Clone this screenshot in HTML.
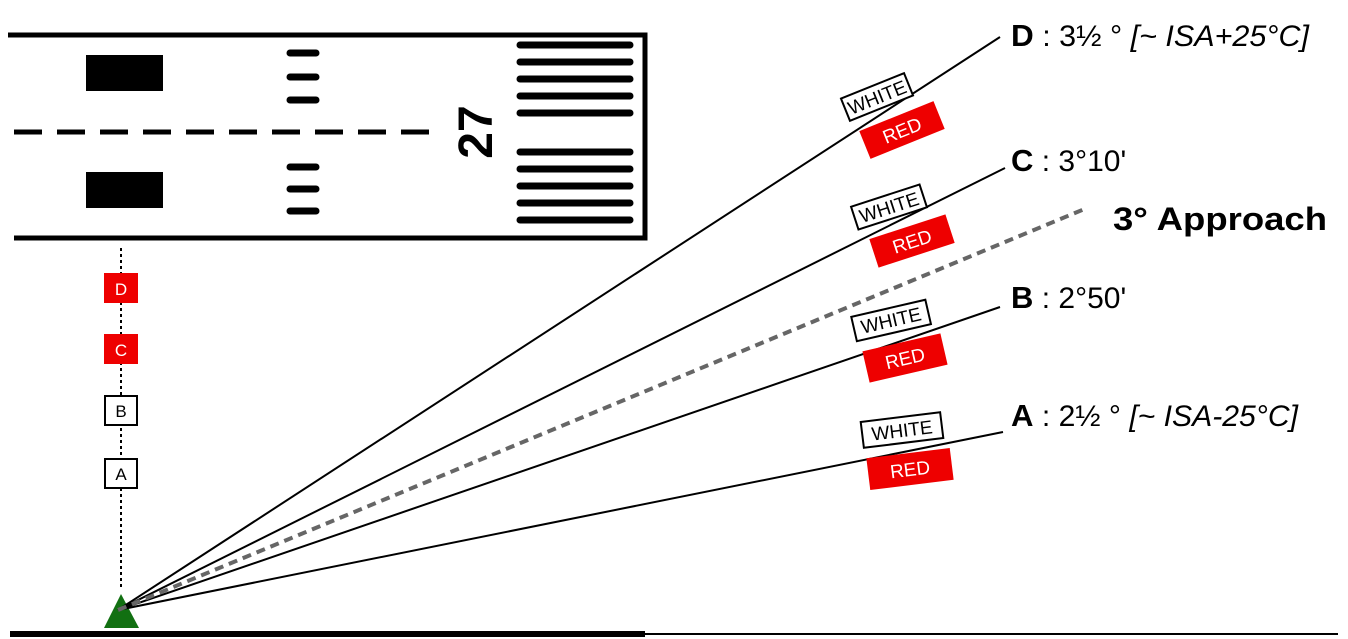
<!DOCTYPE html>
<html><head><style>html,body{margin:0;padding:0;background:#fff}svg{display:block}</style></head>
<body>
<svg width="1348" height="639" viewBox="0 0 1348 639" xmlns="http://www.w3.org/2000/svg" font-family="Liberation Sans, sans-serif">
<rect width="1348" height="639" fill="#fff"/>
<!-- runway -->
<polyline points="8,35 645,35 645,238 14,238" fill="none" stroke="#000" stroke-width="5"/>
<rect x="86" y="55" width="77" height="36" fill="#000"/>
<rect x="86" y="172" width="77" height="36" fill="#000"/>
<g stroke="#000" stroke-width="7" stroke-linecap="round">
<line x1="290" y1="53" x2="316" y2="53"/><line x1="290" y1="77" x2="316" y2="77"/><line x1="290" y1="100" x2="316" y2="100"/>
<line x1="290" y1="167" x2="316" y2="167"/><line x1="290" y1="189" x2="316" y2="189"/><line x1="290" y1="211" x2="316" y2="211"/>
<line x1="520" y1="45" x2="630" y2="45"/><line x1="520" y1="62" x2="630" y2="62"/><line x1="520" y1="79" x2="630" y2="79"/><line x1="520" y1="96" x2="630" y2="96"/><line x1="520" y1="113" x2="630" y2="113"/>
<line x1="520" y1="152" x2="630" y2="152"/><line x1="520" y1="169" x2="630" y2="169"/><line x1="520" y1="186" x2="630" y2="186"/><line x1="520" y1="203" x2="630" y2="203"/><line x1="520" y1="220" x2="630" y2="220"/>
</g>
<line x1="14" y1="132" x2="430" y2="132" stroke="#000" stroke-width="5" stroke-dasharray="28,15"/>
<text x="0" y="0" transform="translate(492,132) rotate(-90)" font-size="48" font-weight="bold" text-anchor="middle">27</text>
<!-- left markers -->
<line x1="121" y1="248" x2="121" y2="590" stroke="#000" stroke-width="2" stroke-dasharray="3,3"/>
<rect x="104" y="273" width="34" height="30" fill="#e00"/><text x="121" y="295" font-size="17" fill="#fff" text-anchor="middle">D</text>
<rect x="104" y="334" width="34" height="30" fill="#e00"/><text x="121" y="356" font-size="17" fill="#fff" text-anchor="middle">C</text>
<rect x="105" y="396" width="32" height="29" fill="#fff" stroke="#000" stroke-width="2"/><text x="121" y="417" font-size="17" text-anchor="middle">B</text>
<rect x="105" y="459" width="32" height="29" fill="#fff" stroke="#000" stroke-width="2"/><text x="121" y="480" font-size="17" text-anchor="middle">A</text>
<!-- ground -->
<line x1="10" y1="634" x2="645" y2="634" stroke="#000" stroke-width="6"/>
<line x1="645" y1="634" x2="1338" y2="634" stroke="#000" stroke-width="2"/>
<!-- triangle -->
<polygon points="121,594 104,628 139,628" fill="#127012"/>
<!-- lines -->
<g stroke="#000" stroke-width="2">
<line x1="118" y1="610" x2="1000" y2="37"/>
<line x1="118" y1="610" x2="1005" y2="168"/>
<line x1="118" y1="610" x2="1000" y2="307"/>
<line x1="118" y1="610" x2="1003" y2="432"/>
</g>
<line x1="118" y1="610" x2="1087" y2="208" stroke="#666" stroke-width="4" stroke-dasharray="9,6"/>
<!-- WHITE/RED labels -->
<g font-size="19">
<g transform="translate(877,97) rotate(-22)"><rect x="-34" y="-12" width="68" height="24" fill="#fff" stroke="#000" stroke-width="2"/><text x="0" y="7" text-anchor="middle">WHITE</text></g>
<g transform="translate(902,130) rotate(-22)"><rect x="-40" y="-15" width="80" height="30" fill="#e00"/><text x="0" y="7" text-anchor="middle" fill="#fff">RED</text></g>
<g transform="translate(889,207) rotate(-18)"><rect x="-36" y="-12" width="72" height="24" fill="#fff" stroke="#000" stroke-width="2"/><text x="0" y="7" text-anchor="middle">WHITE</text></g>
<g transform="translate(912,241) rotate(-18)"><rect x="-40" y="-15" width="80" height="30" fill="#e00"/><text x="0" y="7" text-anchor="middle" fill="#fff">RED</text></g>
<g transform="translate(891,320) rotate(-13)"><rect x="-38" y="-12" width="76" height="25" fill="#fff" stroke="#000" stroke-width="2"/><text x="0" y="7" text-anchor="middle">WHITE</text></g>
<g transform="translate(905,358) rotate(-13)"><rect x="-40" y="-16" width="80" height="32" fill="#e00"/><text x="0" y="7" text-anchor="middle" fill="#fff">RED</text></g>
<g transform="translate(902,430) rotate(-7)"><rect x="-40" y="-13" width="80" height="26" fill="#fff" stroke="#000" stroke-width="2"/><text x="0" y="7" text-anchor="middle">WHITE</text></g>
<g transform="translate(910,469) rotate(-7)"><rect x="-42" y="-16" width="84" height="32" fill="#e00"/><text x="0" y="7" text-anchor="middle" fill="#fff">RED</text></g>
</g>
<!-- right labels -->
<g font-size="30">
<text x="1011" y="46" textLength="298" lengthAdjust="spacingAndGlyphs"><tspan font-weight="bold" font-size="31">D</tspan> : 3½ ° <tspan font-style="italic">[~ ISA+25°C]</tspan></text>
<text x="1011" y="171"><tspan font-weight="bold" font-size="31">C</tspan> : 3°10'</text>
<text x="1011" y="308"><tspan font-weight="bold" font-size="31">B</tspan> : 2°50'</text>
<text x="1011" y="426" textLength="287" lengthAdjust="spacingAndGlyphs"><tspan font-weight="bold" font-size="31">A</tspan> : 2½ ° <tspan font-style="italic">[~ ISA-25°C]</tspan></text>
<text x="1113" y="230" font-weight="bold" font-size="32" textLength="214" lengthAdjust="spacingAndGlyphs">3° Approach</text>
</g>
</svg>
</body></html>
